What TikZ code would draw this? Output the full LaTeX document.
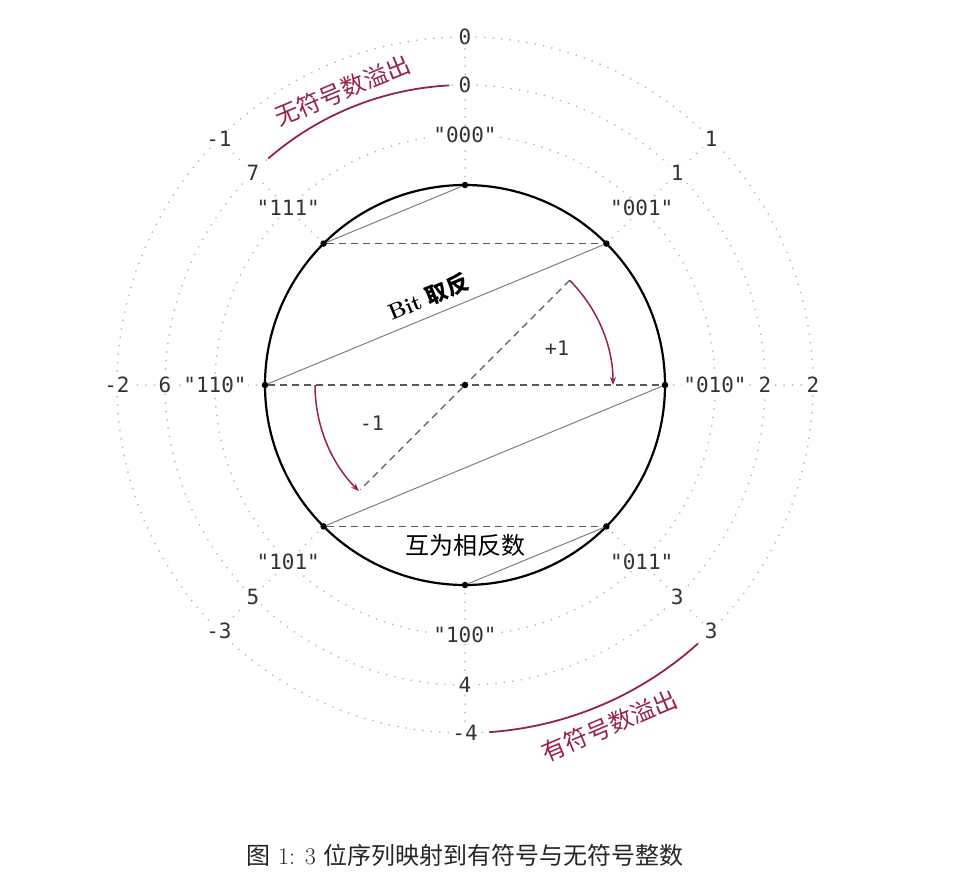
\documentclass[tikz,border=0pt]{standalone}
\usepackage{fontspec}
\setmonofont{DejaVu Sans Mono}
\newfontfamily\cjk{Noto Sans CJK SC}
\usetikzlibrary{arrows.meta}
\definecolor{overflow}{RGB}{150,35,75}

\begin{document}
\begin{tikzpicture}[
    x=1pt, y=1pt,
    >={Stealth[length=8pt, width=6pt]},
    ring/.style={gray!50, line width=2pt, line cap=round, dash pattern=on 0pt off 8.5pt},
    lbl/.style={fill=white, inner sep=1.5pt, text=black!80, font=\ttfamily\fontsize{21}{21}\selectfont},
    dot/.style={circle, fill=black, inner sep=0pt, minimum size=6.5pt},
    flip/.style={gray, line width=1pt},
    negate/.style={gray!70!black, line width=1.2pt, dash pattern=on 7pt off 5pt},
    wrap/.style={overflow, line width=1.8pt},
    cjktext/.style={font=\cjk\fontsize{24}{24}\selectfont}
]
\useasboundingbox (-465,-504) rectangle (492,385);

% dotted rings and spokes
\foreach \r in {250,300,348}
  \draw[ring] (0,0) circle (\r);
\foreach \a in {0,45,...,315}
  \draw[ring] (\a:200) -- (\a:348);

% the circle of bit patterns
\draw[line width=2.2pt] (0,0) circle (200);

\foreach \k/\b/\u/\s in {0/000/0/0, 1/001/1/1, 2/010/2/2, 3/011/3/3,
                        4/100/4/-4, 5/101/5/-3, 6/110/6/-2, 7/111/7/-1} {
  \node[dot] (p\b) at ({90-45*\k}:200) {};
  \node[lbl] (bit\b) at ({90-45*\k}:250) {"\b"};
  \node[lbl] (uns\k) at ({90-45*\k}:300) {\u};
  \node[lbl] (sgn\k) at ({90-45*\k}:348) {\s};
}

% bit inversion
\draw[flip] (p000) -- (p111);
\draw[flip] (p001) -- (p110);
\draw[flip] (p010) -- (p101);
\draw[flip] (p011) -- (p100);

% negation
\draw[negate] (p111) -- (p001);
\draw[negate] (p110) -- (p010);
\draw[negate] (p101) -- (p011);

\node[dot] (o) at (0,0) {};
\coordinate (plus) at (45:148);
\coordinate (minus) at (225:148);
\coordinate (left) at (180:150);
\draw[negate] (plus) -- (o) -- (minus);

\draw[wrap, line width=1.5pt, ->] (plus) arc[start angle=45, end angle=0, radius=148];
\draw[wrap, line width=1.5pt, ->] (left) arc[start angle=180, end angle=225, radius=150];

\node[text=black!80, font=\ttfamily\fontsize{20}{20}\selectfont] (inc) at (92,37) {+1};
\node[text=black!80, font=\ttfamily\fontsize{20}{20}\selectfont] (dec) at (-93,-38) {-1};
\node[rotate=22.4, font=\fontsize{22}{22}\selectfont] (inv) at (-37,88) {\textbf{Bit} {\cjk\bfseries 取反}};
\node[cjktext] (neg) at (0,-160) {互为相反数};

% overflow
\draw[wrap] (93:300) arc[start angle=93, end angle=131, radius=300];
\node[cjktext, text=overflow, rotate=22.6] (uovf) at (112.6:319) {无符号数溢出};
\draw[wrap] (-86:348) arc[start angle=-86, end angle=-48, radius=348];
\node[cjktext, text=overflow, rotate=23] (sovf) at (-67:370) {有符号数溢出};

\node[text=black!85, font=\fontsize{24}{24}\selectfont] (caption) at (0,-470)
  {{\cjk 图} 1: 3 {\cjk 位序列映射到有符号与无符号整数}};

\end{tikzpicture}
\end{document}
